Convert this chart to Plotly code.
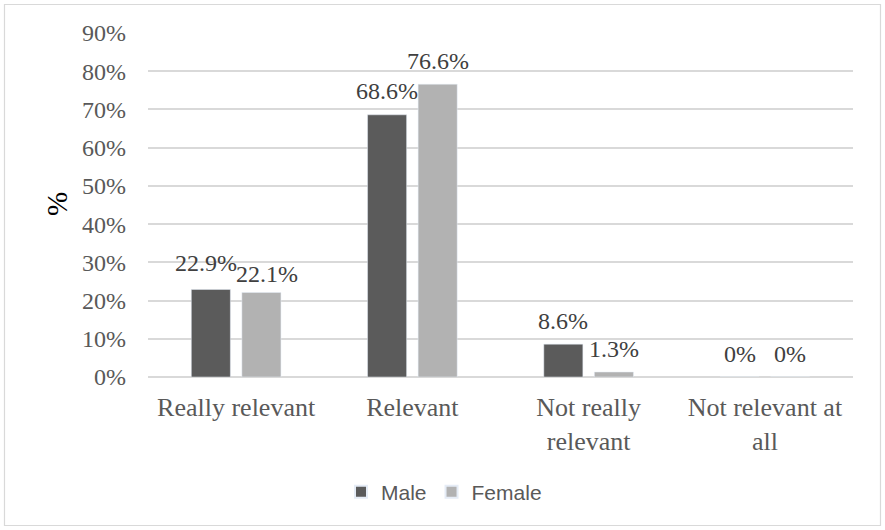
import plotly.graph_objects as go

categories = ["Really relevant", "Relevant", "Not really<br>relevant", "Not relevant at<br>all"]
male = [22.9, 68.6, 8.6, 0]
female = [22.1, 76.6, 1.3, 0]
male_labels = ["22.9%", "68.6%", "8.6%", "0%"]
female_labels = ["22.1%", "76.6%", "1.3%", "0%"]
tick_vals = [0, 10, 20, 30, 40, 50, 60, 70, 80, 90]
tick_text = ["0%", "10%", "20%", "30%", "40%", "50%", "60%", "70%", "80%", "90%"]

W, H = 885, 530
ML, MR, MT, MB = 148, 32, 33, 153
PW, PH = W - ML - MR, H - MT - MB

serif = "Liberation Serif"
txtcol = "#595959"
labcol = "#404040"

fig = go.Figure()
fig.add_trace(go.Bar(name="Male", x=categories, y=male, marker_color="#5b5b5b"))
fig.add_trace(go.Bar(name="Female", x=categories, y=female, marker_color="#b2b2b2"))

# data labels (label nudges mimic the reference's collision avoidance)
slot_px = 50.5
male_dx = [-5, 0, 0, 0]
female_dx = [5.5, 0, 0, 0]
male_dy = [26.5, 23.5, 23.5, 23.5]
female_dy = [18.5, 23.5, 23.5, 23.5]
for i, c in enumerate(categories):
    fig.add_annotation(x=c, y=male[i], text=male_labels[i], showarrow=False,
                       xshift=-slot_px / 2 + male_dx[i], yshift=male_dy[i],
                       yanchor="middle", xanchor="center",
                       font=dict(family=serif, size=24, color=labcol))
    fig.add_annotation(x=c, y=female[i], text=female_labels[i], showarrow=False,
                       xshift=slot_px / 2 + female_dx[i], yshift=female_dy[i],
                       yanchor="middle", xanchor="center",
                       font=dict(family=serif, size=24, color=labcol))

def px_x(px):
    return (px - ML) / PW

def px_y(py):
    return 1 - (py - MT) / PH

fig.add_shape(type="rect", xref="paper", yref="paper",
              x0=px_x(4.5), x1=px_x(880.5), y0=px_y(525.5), y1=px_y(4.5),
              line=dict(color="#d9d9d9", width=1.2), fillcolor="rgba(0,0,0,0)", layer="below")

fig.add_annotation(text="%", xref="paper", yref="paper", x=px_x(57), y=px_y(204),
                   showarrow=False, textangle=-90, xanchor="center", yanchor="middle",
                   font=dict(family=serif, size=29, color="#000000"))

fig.update_layout(
    width=W, height=H,
    margin=dict(l=ML, r=MR, t=MT, b=MB, pad=0),
    paper_bgcolor="white", plot_bgcolor="white",
    barmode="group", bargap=0.426, bargroupgap=0.228,
    showlegend=True,
    legend=dict(orientation="h", x=px_x(444), xanchor="center", y=px_y(492), yanchor="middle",
                font=dict(family="Liberation Sans, Arial, sans-serif", size=21, color=txtcol),
                itemsizing="constant", bgcolor="rgba(0,0,0,0)"),
    xaxis=dict(tickfont=dict(family=serif, size=26, color=txtcol), showgrid=False,
               showline=False, zeroline=False, ticks="", ticklabelstandoff=12),
    yaxis=dict(range=[0, 90], tickvals=tick_vals, ticktext=tick_text,
               tickfont=dict(family=serif, size=24, color=txtcol),
               showgrid=True, gridcolor="#d9d9d9", gridwidth=1.5,
               zeroline=True, zerolinecolor="#d9d9d9", zerolinewidth=1.5,
               showline=False, ticks="", ticklabelstandoff=21),
)

fig.write_html("out.html")
